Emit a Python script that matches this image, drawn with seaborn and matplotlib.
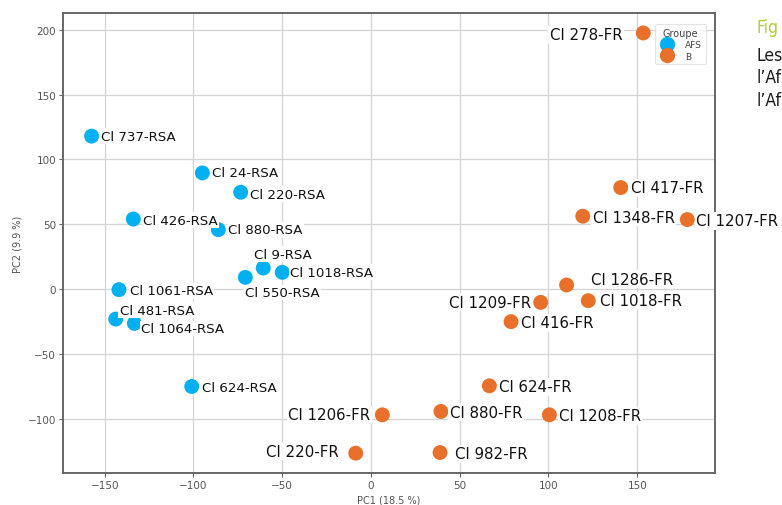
import seaborn as sns
import matplotlib.pyplot as plt
import pandas as pd

# PCA coordinates
afs_names = ['Cl 737-RSA', 'Cl 24-RSA', 'Cl 220-RSA', 'Cl 426-RSA', 'Cl 880-RSA',
             'Cl 9-RSA', 'Cl 1018-RSA', 'Cl 550-RSA', 'Cl 1061-RSA', 'Cl 481-RSA',
             'Cl 1064-RSA', 'Cl 624-RSA']
afs_pc1 = [-157.4, -95, -73.4, -133.9, -86, -60.7, -50, -70.8, -142, -143.8, -133.3, -101]
afs_pc2 = [118, 89.6, 74.7, 54, 45.8, 16.2, 12.9, 9, -0.5, -23.2, -26.5, -75.2]

b_names = ['Cl 1206-FR', 'Cl 220-FR', 'Cl 278-FR', 'Cl 417-FR', 'Cl 1348-FR',
           'Cl 1207-FR', 'Cl 1286-FR', 'Cl 1209-FR', 'Cl 1018-FR', 'Cl 416-FR',
           'Cl 624-FR', 'Cl 880-FR', 'Cl 1208-FR', 'Cl 982-FR']
b_pc1 = [6.4, -8.6, 153.4, 140.7, 119.3, 178.2, 110.2, 95.6, 122.4, 78.9, 66.7, 39.4, 100.5, 38.9]
b_pc2 = [-97.1, -126.7, 197.6, 78.3, 56.2, 53.6, 3.1, -10.3, -9, -25.2, -74.7, -94.5, -97.1, -126.2]

groups = ['AFS', 'B']
colors = {'AFS': '#00b0f0', 'B': '#e8702a'}

df = pd.DataFrame({
    'name': afs_names + b_names,
    'PC1': afs_pc1 + b_pc1,
    'PC2': afs_pc2 + b_pc2,
    'Groupe': ['AFS'] * len(afs_names) + ['B'] * len(b_names),
})

# label placement: (dx, dy) in pixels, horizontal alignment
label_pos = {
    'Cl 737-RSA': (9, 0, 'left'), 'Cl 24-RSA': (10, 0, 'left'),
    'Cl 220-RSA': (9, -2, 'left'), 'Cl 426-RSA': (10, -1, 'left'),
    'Cl 880-RSA': (10, 0, 'left'), 'Cl 9-RSA': (20, 14, 'center'),
    'Cl 1018-RSA': (8, 0, 'left'), 'Cl 550-RSA': (0, -15, 'left'),
    'Cl 1061-RSA': (11, -1, 'left'), 'Cl 481-RSA': (4, 9, 'left'),
    'Cl 1064-RSA': (7, -5, 'left'), 'Cl 624-RSA': (10, -1, 'left'),
    'Cl 1206-FR': (-12, 0, 'right'), 'Cl 220-FR': (-17, 2, 'right'),
    'Cl 278-FR': (-21, -2, 'right'), 'Cl 417-FR': (10, 0, 'left'),
    'Cl 1348-FR': (10, -1, 'left'), 'Cl 1207-FR': (9, -1, 'left'),
    'Cl 1286-FR': (24, 6, 'left'), 'Cl 1209-FR': (-10, 0, 'right'),
    'Cl 1018-FR': (12, 0, 'left'), 'Cl 416-FR': (10, -1, 'left'),
    'Cl 624-FR': (10, -1, 'left'), 'Cl 880-FR': (9, -1, 'left'),
    'Cl 1208-FR': (10, -1, 'left'), 'Cl 982-FR': (15, -1, 'left'),
}

sns.set_style('whitegrid')
plt.rcParams['font.family'] = ['DejaVu Sans']

fig = plt.figure(figsize=(7.82, 5.06), dpi=100)
ax = fig.add_axes([0.0806, 0.0632, 0.8337, 0.9091])

sns.scatterplot(data=df, x='PC1', y='PC2', hue='Groupe', hue_order=groups,
                palette=colors, s=115, edgecolor='none', ax=ax, zorder=3, legend=False)

# text labels with white boxes
for name, x, y, g in zip(df['name'], df['PC1'], df['PC2'], df['Groupe']):
    dx, dy, ha = label_pos[name]
    fs = 9.6 if g == 'AFS' else 10.8
    ax.annotate(name, (x, y), xytext=(dx, dy), textcoords='offset pixels',
                ha=ha, va='center', fontsize=fs, color='#111111', zorder=4,
                annotation_clip=False,
                bbox=dict(boxstyle='square,pad=0.1', fc='white', ec='none'))

ax.set_xlim(-173.5, 193.8)
ax.set_ylim(-142, 213)
ax.set_xticks([-150, -100, -50, 0, 50, 100, 150])
ax.set_yticks([-100, -50, 0, 50, 100, 150, 200])
ax.grid(True, color='#d4d4d4', linewidth=0.9)
ax.set_axisbelow(True)
for sp in ax.spines.values():
    sp.set_color('#666666')
    sp.set_linewidth(1.4)
ax.tick_params(axis='both', length=3, width=0.8, color='#666666',
               labelsize=7.5, labelcolor='#555555', pad=2, bottom=True, left=True)
ax.set_xlabel('PC1 (18.5 %)', fontsize=7, color='#555555', labelpad=3)
ax.set_ylabel('PC2 (9.9 %)', fontsize=7, color='#555555', labelpad=4)

# legend
handles = [plt.Line2D([], [], marker='o', linestyle='none', markersize=11,
                      markerfacecolor=colors[g], markeredgecolor='none') for g in groups]
leg = ax.legend(handles, groups, title='Groupe', loc='upper right',
                fontsize=6.5, title_fontsize=7, frameon=True, borderpad=0.4,
                handletextpad=1.0, labelspacing=0.25, bbox_to_anchor=(0.993, 0.985))
leg.get_frame().set_edgecolor('#dddddd')
leg.get_frame().set_linewidth(0.8)
leg.set_zorder(5)
for t in leg.get_texts():
    t.set_color('#444444')
leg.get_title().set_color('#444444')

# caption fragments cut by the right edge
cap = dict(fontsize=12.5, family='DejaVu Sans', fontstretch='condensed', va='center')
fig.text(0.968, 0.944, 'Fig', color='#b5cd3c', **cap)
fig.text(0.968, 0.889, 'Les', color='#1a1a1a', **cap)
fig.text(0.968, 0.845, "l\u2019Af", color='#1a1a1a', **cap)
fig.text(0.968, 0.800, "l\u2019Af", color='#1a1a1a', **cap)

fig.savefig('out.png', dpi=100)
